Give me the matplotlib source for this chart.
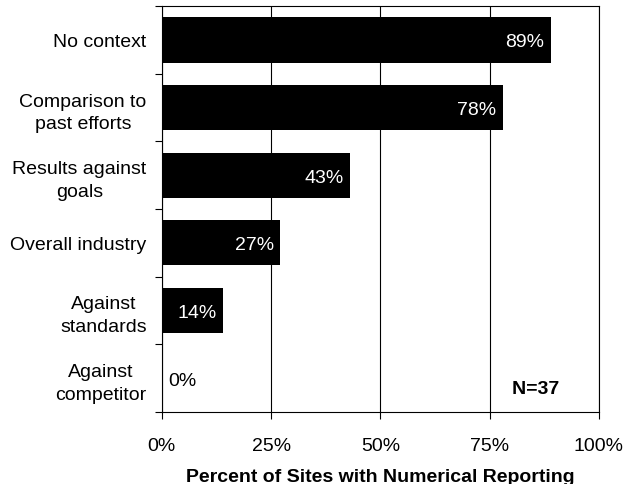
import numpy as np
import matplotlib.pyplot as plt
from matplotlib.ticker import FixedLocator, PercentFormatter

plt.rcParams['font.family'] = ['Liberation Sans', 'DejaVu Sans']

categories = ["No context", "Comparison to\npast efforts", "Results against\ngoals",
              "Overall industry", "Against\nstandards", "Against\ncompetitor"]
values = [89, 78, 43, 27, 14, 0]
x_ticks = [0, 25, 50, 75, 100]

fs = 14
fig = plt.figure(figsize=(6.25, 4.85), dpi=100)
ax = fig.add_axes([0.259, 0.1485, 0.699, 0.837])

y = np.arange(len(categories))
ax.barh(y, values, height=0.67, color="black", zorder=3)

for yi, v in zip(y, values):
    if v > 5:
        ax.text(v - 1.4, yi + 0.03, f"{v}%", color="white", ha="right", va="center", fontsize=fs, zorder=4)
    else:
        ax.text(v + 1.4, yi + 0.03, f"{v}%", color="black", ha="left", va="center", fontsize=fs, zorder=4)

ax.set_xlim(0, 100)
ax.set_ylim(len(categories) - 0.5, -0.5)
ax.set_xticks(x_ticks)
ax.xaxis.set_major_formatter(PercentFormatter(decimals=0))
ax.grid(axis="x", color="black", linewidth=0.8, zorder=0)

ax.set_yticks(y)
ax.set_yticklabels(categories, ha="right", multialignment="center", fontsize=fs, linespacing=1.45)
ax.tick_params(axis="y", which="major", length=0, pad=11)
ax.yaxis.set_minor_locator(FixedLocator(np.arange(-0.5, len(categories), 1)))
ax.tick_params(axis="y", which="minor", length=5, width=0.8, direction="out")
ax.tick_params(axis="x", length=5, width=0.8, labelsize=fs, pad=13)

for s in ax.spines.values():
    s.set_linewidth(0.8)

ax.set_xlabel("Percent of Sites with Numerical Reporting", fontsize=fs, fontweight="bold", labelpad=10)

ax.text(85.6, 5.16, "   N=37   ", fontsize=fs, fontweight="bold", ha="center", va="center", zorder=5,
        bbox=dict(facecolor="white", edgecolor="none", pad=3))

fig.savefig("out.png", dpi=100)
